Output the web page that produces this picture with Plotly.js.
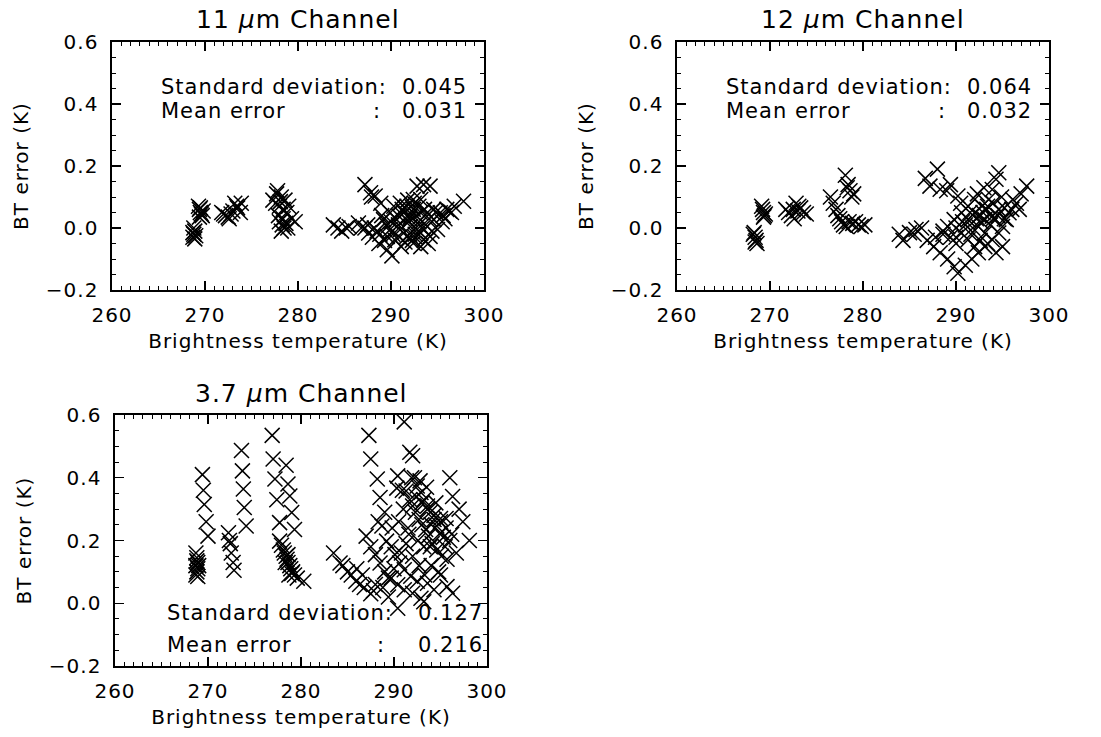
<!DOCTYPE html>
<html>
<head>
<meta charset="utf-8">
<script src="https://cdn.plot.ly/plotly-3.0.1.min.js"></script>
<style>html,body{margin:0;padding:0;background:#fff;}#chart{width:1101px;height:737px;}
svg text{letter-spacing:1px;}</style>
</head>
<body>
<div id="chart"></div>
<script>
// ---------- data ----------
const channelTitles = ["11 <i>μ</i>m Channel", "12 <i>μ</i>m Channel", "3.7 <i>μ</i>m Channel"];
const stdDev = ["0.045", "0.064", "0.127"];
const meanErr = ["0.031", "0.032", "0.216"];
const xTickVals = [260, 270, 280, 290, 300];
const yTickVals = [-0.2, 0.0, 0.2, 0.4, 0.6];

// 11 um channel
const x11 = [268.7,268.8,268.9,268.8,269.0,268.9,268.7,
  269.3,269.4,269.5,269.6,269.7,269.5,269.8,269.4,
  271.8,272.0,272.2,272.5,272.8,273.0,273.2,273.5,273.8,272.6,273.4,273.9,
  277.3,277.6,277.8,278.0,278.2,278.4,278.6,278.8,279.0,279.3,279.7,278.0,278.3,278.5,278.2,278.7,278.4,277.9,278.9,277.7,278.1,
  283.8,284.3,284.7,285.2,285.5,
  287.2,287.8,288.3,288.9,287.9,
  286.5,287.2,287.6,288.0,288.7,289.6,290.1,
  289.2,289.9,290.3,291.0,291.7,292.4,293.2,292.1,291.4,290.6,291.0,291.7,292.4,293.2,293.9,294.6,295.3,296.0,296.8,297.8,
  292.8,293.5,294.2,295.0,294.2,293.5,292.8,292.1,293.9,294.6,293.2,292.4,289.9,289.6,290.4,291.1,293.2,
  291.5,292.0,292.6,293.0,290.8,291.9,292.3,294.0,295.6,296.3,288.5,289.0,
  289.5,290.0,290.8,291.2,291.6,292.2,292.7,293.0,293.6,294.1,294.8,295.5,290.2,290.9,291.5,292.0,292.6,293.4,294.4,
  288.2,288.8,289.3,287.5,286.8,291.8,292.5,293.0,295.8,296.5];
const y11 = [-0.03,-0.02,-0.01,0.0,-0.025,-0.035,-0.015,
  0.07,0.06,0.05,0.045,0.04,0.065,0.055,0.035,
  0.05,0.045,0.04,0.035,0.045,0.055,0.08,0.065,0.05,0.03,0.07,0.08,
  0.09,0.08,0.12,0.07,0.10,0.06,0.09,0.05,0.07,0.03,0.02,0.02,0.01,0.0,-0.01,0.015,0.03,0.04,0.0,0.11,0.085,
  0.01,0.0,-0.01,0.0,0.005,
  0.14,0.114,0.103,0.08,0.10,
  0.016,0.0,-0.016,-0.03,-0.05,-0.07,-0.09,
  0.027,0.049,0.07,0.08,0.07,0.06,0.049,0.038,0.049,0.027,-0.005,-0.027,-0.049,-0.016,0.005,0.027,0.049,0.06,0.07,0.086,
  0.135,0.14,0.135,-0.005,-0.027,-0.038,-0.005,0.005,0.049,0.06,0.092,0.092,-0.005,-0.027,-0.038,-0.06,-0.06,
  0.065,0.03,-0.02,0.01,0.01,0.02,-0.04,-0.05,0.04,0.055,-0.01,0.04,
  0.01,0.02,0.04,0.06,0.03,0.07,0.04,0.02,0.06,0.03,0.05,0.02,-0.02,-0.03,-0.045,-0.02,-0.03,0.0,-0.01,
  0.0,-0.02,-0.04,0.01,0.0,0.09,0.08,0.07,0.03,0.05];

// 12 um channel
const x12 = [268.2,268.4,268.5,268.6,268.4,268.3,
  269.1,269.2,269.3,269.4,269.5,269.3,
  271.7,272.0,272.3,272.5,272.8,273.0,273.3,273.6,272.6,273.1,273.9,
  276.5,276.8,277.1,277.3,277.5,277.7,277.9,278.2,278.1,278.4,278.6,278.8,279.0,278.3,279.2,279.5,279.8,280.2,278.5,278.9,
  283.9,284.3,285.0,285.7,
  286.7,288.0,287.2,288.3,289.4,290.2,
  286.9,287.6,288.3,289.1,289.8,290.2,
  289.1,289.8,290.6,291.3,292.0,291.3,292.0,292.8,293.5,293.9,294.3,294.6,292.4,293.1,293.9,293.1,292.4,291.7,291.0,
  294.6,295.0,295.7,296.5,297.6,296.1,295.4,293.1,293.9,294.6,290.6,291.3,292.0,294.3,295.0,
  292.5,293.3,294.0,291.8,290.0,288.6,292.7,293.7,295.2,296.8,
  290.0,290.7,291.5,292.2,292.9,293.4,294.0,294.5,295.2,291.0,291.6,292.6,293.4,290.0,289.4,288.6,287.8,286.3,285.5,
  292.3,293.0,294.9,296.0,297.0,289.0,290.5];
const y12 = [-0.02,-0.03,-0.04,-0.05,-0.045,-0.015,
  0.07,0.06,0.05,0.04,0.045,0.035,
  0.06,0.05,0.04,0.06,0.08,0.055,0.065,0.05,0.03,0.07,0.045,
  0.10,0.08,0.06,0.04,0.03,0.02,0.01,0.005,0.17,0.14,0.12,0.10,0.11,0.13,0.02,0.01,0.005,0.01,0.02,0.015,
  -0.02,-0.04,-0.015,-0.005,
  0.16,0.19,0.135,0.125,0.14,0.103,
  -0.04,-0.06,-0.08,-0.10,-0.125,-0.146,
  0.005,0.027,0.049,0.07,0.092,0.027,0.049,0.07,0.092,0.124,0.157,0.178,0.005,-0.016,-0.038,-0.06,-0.08,-0.10,-0.12,
  -0.016,0.005,0.049,0.08,0.135,0.092,0.027,0.027,0.038,0.06,-0.016,-0.038,-0.06,-0.08,-0.06,
  0.04,0.06,0.03,0.0,-0.03,-0.02,0.02,0.01,0.065,0.06,
  0.0,0.02,0.05,0.03,0.05,0.07,0.08,0.04,0.03,0.01,-0.02,-0.04,-0.05,-0.05,-0.03,-0.01,-0.03,0.0,-0.02,
  0.11,0.13,0.10,0.06,0.11,0.12,0.08];

// 3.7 um channel
const x37 = [268.7,268.8,268.9,268.7,268.9,268.8,268.7,268.9,268.8,269.0,
  269.4,269.5,269.6,269.8,270.0,
  272.2,272.3,272.4,272.5,272.7,272.8,
  273.6,273.7,273.8,273.9,274.1,
  276.9,277.0,278.4,277.2,278.6,277.4,278.8,277.7,279.0,279.3,
  277.7,277.9,278.1,278.2,278.4,278.5,278.6,278.8,278.9,279.1,279.3,279.6,280.3,279.0,278.6,278.3,278.7,
  283.5,284.2,285.0,285.9,286.6,
  287.3,287.5,288.2,288.5,291.1,291.7,292.0,290.4,290.3,
  296.0,296.3,297.0,297.4,298.1,296.7,
  292.2,292.5,292.9,293.2,293.6,293.9,294.3,294.6,295.0,295.3,
  291.3,291.7,292.0,292.3,292.7,293.0,293.4,293.7,294.1,294.6,295.1,
  292.4,293.0,293.6,294.3,295.0,295.6,296.0,295.7,
  287.0,287.5,288.0,288.5,289.0,289.7,290.4,291.1,292.0,292.9,293.2,
  288.3,288.7,289.2,289.7,290.1,290.6,291.1,291.8,292.5,293.6,294.3,295.0,295.7,296.3,
  290.4,286.3,287.8,289.4,291.6,293.9,
  284.5,285.4,286.0,286.8,287.5,288.0,288.8,289.4,290.0,290.8,291.3,292.0,292.7,293.3,294.0,294.8,295.5,
  289.0,289.8,290.5,291.0,291.5,292.8,293.5,294.5,295.6,296.2,290.9,291.9,292.6,293.2,294.0,295.0];
const y37 = [0.16,0.145,0.13,0.12,0.11,0.10,0.09,0.085,0.135,0.12,
  0.41,0.36,0.315,0.26,0.214,
  0.225,0.20,0.19,0.16,0.13,0.105,
  0.487,0.422,0.364,0.305,0.246,
  0.535,0.46,0.44,0.396,0.38,0.33,0.342,0.257,0.289,0.235,
  0.198,0.185,0.17,0.16,0.15,0.14,0.13,0.12,0.11,0.10,0.09,0.08,0.07,0.095,0.155,0.13,0.09,
  0.16,0.128,0.10,0.07,0.09,
  0.535,0.46,0.396,0.337,0.578,0.481,0.47,0.406,0.367,
  0.40,0.34,0.30,0.26,0.20,0.16,
  0.40,0.374,0.353,0.33,0.31,0.29,0.267,0.246,0.225,0.21,
  0.358,0.33,0.31,0.29,0.267,0.25,0.235,0.214,0.19,0.17,0.15,
  0.34,0.32,0.30,0.28,0.26,0.24,0.20,0.14,
  0.214,0.18,0.155,0.128,0.10,0.08,0.059,0.043,0.032,0.016,0.005,
  0.26,0.246,0.198,0.18,0.155,0.128,0.107,0.086,0.07,0.064,0.043,0.09,0.053,0.032,
  -0.016,0.06,0.04,0.02,0.22,0.18,
  0.12,0.09,0.11,0.05,0.03,0.06,0.05,0.08,0.11,0.16,0.19,0.15,0.12,0.09,0.12,0.10,0.18,
  0.29,0.24,0.26,0.30,0.24,0.39,0.37,0.32,0.27,0.22,0.36,0.40,0.20,0.18,0.25,0.27];

// ---------- plotting ----------
const FONT = "DejaVu Sans, sans-serif";
const markerStyle = {symbol: "x-thin-open", size: 15, color: "#000", line: {color: "#000", width: 1.5}};
const datasets = [[x11, y11], [x12, y12], [x37, y37]];
const traces = datasets.map((d, i) => ({
  x: d[0], y: d[1], type: "scatter", mode: "markers",
  xaxis: i === 0 ? "x" : "x" + (i + 1), yaxis: i === 0 ? "y" : "y" + (i + 1),
  marker: markerStyle, hoverinfo: "skip", showlegend: false
}));

const W = 1101, H = 737;
const boxes = [ // pixel boxes [left, right, top, bottom]
  [112, 484, 42, 290],
  [677, 1049, 42, 290],
  [115, 487, 415, 666]
];
const layout = {
  width: W, height: H, margin: {l: 0, r: 0, t: 0, b: 0},
  paper_bgcolor: "#fff", plot_bgcolor: "#fff",
  font: {family: FONT, color: "#000", size: 20},
  showlegend: false, annotations: []
};
boxes.forEach((b, i) => {
  const sfx = i === 0 ? "" : String(i + 1);
  layout["xaxis" + sfx] = {
    domain: [b[0] / W, b[1] / W], anchor: "y" + sfx, range: [260, 300],
    tickvals: xTickVals, ticktext: xTickVals.map(String),
    ticks: "inside", ticklen: 9, tickwidth: 1.2, tickcolor: "#000",
    minor: {ticks: "inside", ticklen: 4, dtick: 1, tickwidth: 1, tickcolor: "#000"},
    showline: true, linecolor: "#000", linewidth: 1.6, mirror: "allticks",
    showgrid: false, zeroline: false, ticklabelstandoff: 6,
    tickfont: {size: 20, family: FONT},
    title: {text: "Brightness temperature (K)", font: {size: 20, family: FONT}, standoff: 8}
  };
  layout["yaxis" + sfx] = {
    domain: [1 - b[3] / H, 1 - b[2] / H], anchor: "x" + sfx, range: [-0.2, 0.6],
    tickvals: yTickVals, ticktext: yTickVals.map(v => (v < 0 ? "\u2212" : "") + Math.abs(v).toFixed(1)),
    ticks: "inside", ticklen: 9, tickwidth: 1.2, tickcolor: "#000",
    minor: {ticks: "inside", ticklen: 4, dtick: 0.05, tickwidth: 1, tickcolor: "#000"},
    showline: true, linecolor: "#000", linewidth: 1.6, mirror: "allticks",
    showgrid: false, zeroline: false, ticklabelstandoff: 8,
    tickfont: {size: 20, family: FONT},
    title: {text: "BT error (K)", font: {size: 20, family: FONT}, standoff: 12}
  };
  // panel title
  layout.annotations.push({
    xref: "paper", yref: "paper", x: (b[0] + b[1]) / 2 / W, y: 1 - (b[2] - 22) / H,
    xanchor: "center", yanchor: "middle", showarrow: false,
    text: channelTitles[i], font: {size: 25, family: FONT}
  });
});
// statistics text positions (data coordinates of each panel)
const statPos = [
  {colon: 289.1, right: 298.4, y1: 0.455, y2: 0.378, start: 265.0},
  {colon: 289.1, right: 298.4, y1: 0.455, y2: 0.378, start: 265.0},
  {colon: 289.3, right: 299.8, y1: -0.031, y2: -0.133, start: 265.4}
];
statPos.forEach((p, i) => {
  const sfx = i === 0 ? "" : String(i + 1);
  const base = {xref: "x" + sfx, yref: "y" + sfx, showarrow: false, yanchor: "middle", font: {size: 21, family: FONT}};
  layout.annotations.push(Object.assign({}, base, {x: p.start, y: p.y1, xanchor: "left", text: "Standard deviation:"}));
  layout.annotations.push(Object.assign({}, base, {x: p.right, y: p.y1, xanchor: "right", text: stdDev[i]}));
  layout.annotations.push(Object.assign({}, base, {x: p.start, y: p.y2, xanchor: "left", text: "Mean error"}));
  layout.annotations.push(Object.assign({}, base, {x: p.colon, y: p.y2, xanchor: "right", text: ":"}));
  layout.annotations.push(Object.assign({}, base, {x: p.right, y: p.y2, xanchor: "right", text: meanErr[i]}));
});

Plotly.newPlot("chart", traces, layout, {staticPlot: true, displayModeBar: false});
</script>
</body>
</html>
